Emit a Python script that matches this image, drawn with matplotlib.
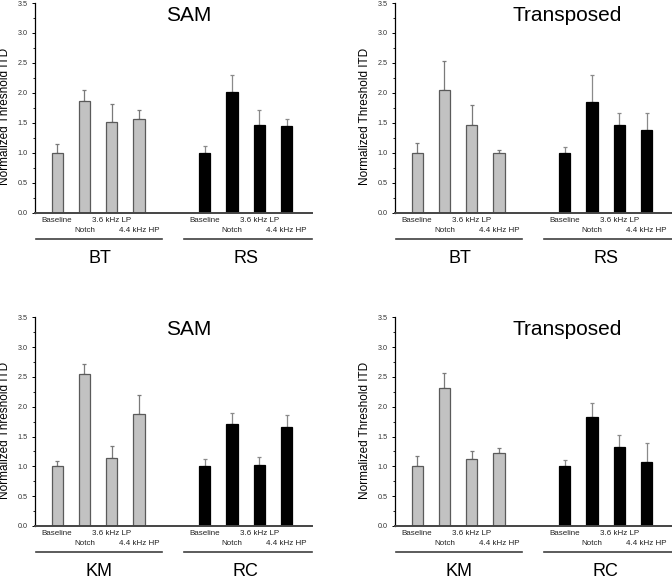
import matplotlib
matplotlib.use('Agg')
import matplotlib.pyplot as plt
from matplotlib.ticker import MultipleLocator
from matplotlib.transforms import ScaledTranslation

plt.rcParams['font.family'] = ['Liberation Sans', 'DejaVu Sans']

# data
conditions = ['Baseline', 'Notch', '3.6 kHz LP', '4.4 kHz HP']

sam_bt = [1.00, 1.86, 1.52, 1.57]
sam_bt_err = [0.14, 0.19, 0.30, 0.14]
sam_rs = [1.00, 2.02, 1.47, 1.44]
sam_rs_err = [0.11, 0.28, 0.24, 0.12]

tr_bt = [1.00, 2.05, 1.46, 0.99]
tr_bt_err = [0.16, 0.48, 0.33, 0.05]
tr_rs = [1.00, 1.84, 1.46, 1.38]
tr_rs_err = [0.09, 0.46, 0.20, 0.28]

sam_km = [1.00, 2.55, 1.14, 1.88]
sam_km_err = [0.09, 0.17, 0.20, 0.31]
sam_rc = [1.00, 1.71, 1.03, 1.66]
sam_rc_err = [0.13, 0.18, 0.13, 0.20]

tr_km = [1.00, 2.32, 1.13, 1.22]
tr_km_err = [0.17, 0.25, 0.13, 0.09]
tr_rc = [1.00, 1.83, 1.32, 1.08]
tr_rc_err = [0.11, 0.23, 0.21, 0.31]

panels = [
    ('SAM', 'BT', 'RS', sam_bt, sam_bt_err, sam_rs, sam_rs_err),
    ('Transposed', 'BT', 'RS', tr_bt, tr_bt_err, tr_rs, tr_rs_err),
    ('SAM', 'KM', 'RC', sam_km, sam_km_err, sam_rc, sam_rc_err),
    ('Transposed', 'KM', 'RC', tr_km, tr_km_err, tr_rc, tr_rc_err),
]

W, H = 672, 577
fig = plt.figure(figsize=(W / 100, H / 100), dpi=100)

# axes boxes in pixels: left, top (3.5), bottom (0.0)
boxes = [(35, 3, 212.7), (395, 3, 212.7), (35, 317.3, 526), (395, 317.3, 526)]
ax_w = 277

pos1 = [0, 1, 2, 3]
pos2 = [5.4, 6.4, 7.4, 8.4]
title_x = [4.80, 5.49, 4.80, 5.49]

for i, (title, g1, g2, v1, e1, v2, e2) in enumerate(panels):
    left, top, bottom = boxes[i]
    ax = fig.add_axes([left / W, (H - bottom) / H, ax_w / W, (bottom - top) / H])

    ax.bar(pos1, v1, width=0.41, color='#c2c2c2', edgecolor='#5a5a5a', linewidth=0.9, zorder=2)
    ax.bar(pos2, v2, width=0.41, color='black', edgecolor='black', linewidth=0.9, zorder=2)
    ax.errorbar(pos1, v1, yerr=[[0] * 4, e1], fmt='none', ecolor='#7a7a7a',
                elinewidth=0.9, capsize=1.6, capthick=0.9, zorder=1)
    ax.errorbar(pos2, v2, yerr=[[0] * 4, e2], fmt='none', ecolor='#8a8a8a',
                elinewidth=0.9, capsize=1.6, capthick=0.9, zorder=1)

    ax.set_xlim(-0.81, 9.33)
    ax.set_ylim(0, 3.5)
    ax.spines['top'].set_visible(False)
    ax.spines['right'].set_visible(False)
    ax.spines['left'].set_linewidth(0.9)
    ax.spines['bottom'].set_linewidth(1.4)
    ax.spines['bottom'].set_color('#444444')
    ax.set_xticks([])
    ax.yaxis.set_major_locator(MultipleLocator(0.5))
    ax.yaxis.set_minor_locator(MultipleLocator(0.25))
    ax.yaxis.set_major_formatter(plt.FormatStrFormatter('%.1f'))
    ax.tick_params(axis='y', which='major', length=2.5, width=0.7, labelsize=5.2,
                   labelcolor='#333333', pad=3)
    ax.tick_params(axis='y', which='minor', length=1.5, width=0.6)

    ax.text(-30 / ax_w, 0.46, 'Normalized Threshold ITD', transform=ax.transAxes,
            rotation=90, ha='center', va='center', fontsize=8.5)
    ax.text(title_x[i], 3.29, title, ha='center', va='center', fontsize=15)

    # condition labels in two rows under each bar group
    for positions in (pos1, pos2):
        for j, (x, name) in enumerate(zip(positions, conditions)):
            off = -5.4 if j % 2 == 0 else -12.6
            ax.annotate(name, xy=(x, 0), xycoords=('data', 'axes fraction'),
                        xytext=(0, off), textcoords='offset points',
                        ha='center', va='center', fontsize=5.8, color='#222222',
                        annotation_clip=False)

    # group underline and subject label
    shift = ax.get_xaxis_transform() + ScaledTranslation(0, -18.7 / 72, fig.dpi_scale_trans)
    for (x0, x1), xc, name in [((-0.77, 3.85), 1.55, g1), ((4.63, 9.33), 6.9, g2)]:
        ax.add_line(plt.Line2D([x0, x1], [0, 0], color='#404040', linewidth=1.2,
                               transform=shift, clip_on=False))
        ax.annotate(name, xy=(xc, 0), xycoords=('data', 'axes fraction'),
                    xytext=(0, -32.8), textcoords='offset points',
                    ha='center', va='center', fontsize=13, annotation_clip=False)

fig.savefig('out.png', dpi=100)
